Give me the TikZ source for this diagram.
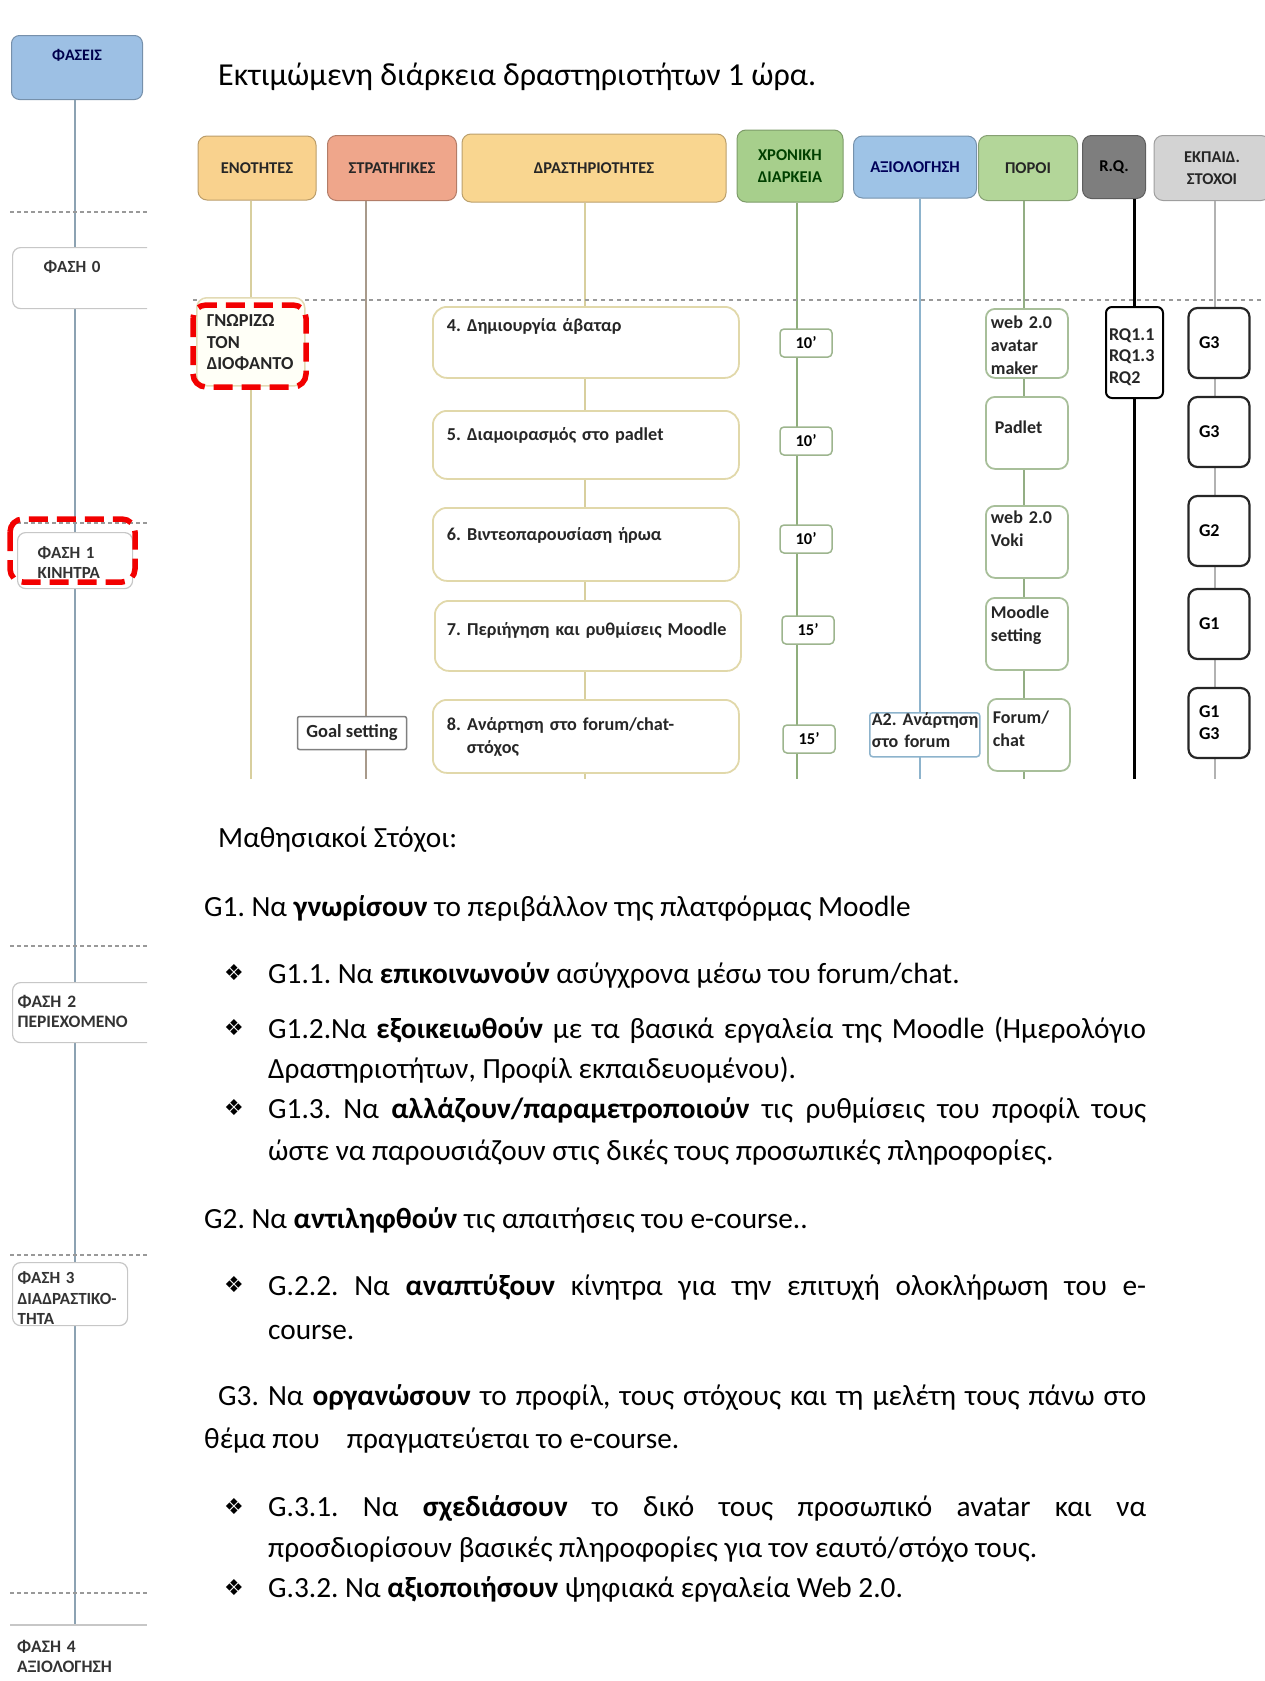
\documentclass[tikz,border=0pt]{standalone}
\usepackage{fontspec}
\setmainfont{Carlito}
\newfontfamily\dingfont{DejaVu Sans}
\definecolor{enotfill}{HTML}{F9D28E}
\definecolor{stratfill}{HTML}{EFA68B}
\definecolor{drastfill}{HTML}{F9D690}
\definecolor{xronfill}{HTML}{A7CF8C}
\definecolor{axiolfill}{HTML}{9EC3E6}
\definecolor{poroifill}{HTML}{B3D699}
\definecolor{rqfill}{HTML}{7E7E7E}
\definecolor{stoxfill}{HTML}{D3D3D3}
\definecolor{phasefill}{HTML}{9DC0E4}
\definecolor{enotline}{HTML}{D8CF9E}
\definecolor{stratline}{HTML}{A89A8B}
\definecolor{xronline}{HTML}{8FAE7C}
\definecolor{axiolline}{HTML}{8DB3CC}
\definecolor{poroiline}{HTML}{93AE84}
\definecolor{phaseline}{HTML}{8CA2B2}
\definecolor{actedge}{HTML}{E1D8AA}
\definecolor{timeedge}{HTML}{9DB58E}
\definecolor{tooledge}{HTML}{A8BF9A}
\definecolor{unitedge}{HTML}{E2DAB4}
\newcommand\hdrfont{\fontsize{16.5}{22}\selectfont\bfseries}
\newcommand\actfont{\fontsize{18.2}{23}\selectfont\bfseries}
\newcommand\toolfont{\fontsize{18}{23}\selectfont\bfseries}
\newcommand\goalfont{\fontsize{18}{22}\selectfont\bfseries}
\newcommand\phasefont{\fontsize{17.5}{20}\selectfont\bfseries}
\newcommand\bodyfont{\fontsize{29.3}{36}\selectfont}
\begin{document}
\frenchspacing
\begin{tikzpicture}[x=1pt,y=-1pt,
    hdr/.style={draw=#1!75!black,fill=#1,rounded corners=9pt,line width=1pt,align=center,font=\hdrfont,text=black!85,inner sep=2pt},
    colline/.style={line width=2pt},
    actbox/.style={draw=actedge,fill=white,line width=1.8pt,rounded corners=14pt,anchor=north west,align=left,text width=278pt,inner xsep=14pt,inner ysep=4pt,font=\actfont,text=black!85},
    timebox/.style={draw=timeedge,fill=white,line width=1.5pt,rounded corners=4pt,minimum width=52pt,minimum height=28pt,inner sep=0pt,font=\fontsize{16.5}{20}\selectfont\bfseries},
    toolbox/.style={draw=tooledge,fill=white,line width=1.8pt,rounded corners=9pt,anchor=north west,align=left,text width=72pt,inner xsep=5pt,inner ysep=3pt,font=\toolfont,text=black!85},
    goalbox/.style={draw=black!85,fill=white,line width=2.2pt,rounded corners=9pt,minimum width=61pt,minimum height=70pt,align=left,text width=40pt,inner xsep=10pt,font=\goalfont},
    phasebox/.style={draw=black!22,fill=white,line width=1.2pt,rounded corners=8pt,anchor=north west,align=left,inner ysep=3pt,font=\phasefont,text=black!80},
    redmark/.style={draw=red!95!black,line width=5.5pt,dash pattern=on 19pt off 9pt,rounded corners=13pt},
    sepline/.style={black!40,line width=1.8pt,dash pattern=on 4pt off 3pt},
    body/.style={anchor=base west,inner sep=0pt,font=\bodyfont},
    bul/.style={anchor=center,inner sep=0pt,font=\dingfont\fontsize{22}{24}\selectfont}]
  \useasboundingbox (0,0) rectangle (1265,1681);

  % phases panel
  \begin{scope}
    \clip (0,0) rectangle (147,1681);
    \node[draw=phasefill!75!black,fill=phasefill,rounded corners=8pt,line width=1pt,anchor=north west,text width=121pt,inner xsep=5pt,inner ysep=3pt,align=center,text height=22pt,text depth=36pt,font=\fontsize{16}{18}\selectfont\bfseries,text=blue!30!black] (phases) at (11,35) {ΦΑΣΕΙΣ};
    \coordinate (phaseEnd) at (75,1625);
    \draw[phaseline,line width=2pt] (phases.south -| phaseEnd) -- (phaseEnd);
    \draw[sepline] (10,212) -- (147,212);
    \draw[sepline] (10,523) -- (147,523);
    \draw[sepline] (10,946) -- (147,946);
    \draw[sepline] (10,1255) -- (147,1255);
    \draw[sepline] (10,1593) -- (147,1593);
    \node[phasebox,text width=98pt,inner xsep=31pt,text height=22pt,text depth=33pt,font=\fontsize{17}{20}\selectfont\bfseries] (ph0) at (12,247) {ΦΑΣΗ 0};
    \node[phasebox,text width=75pt,inner xsep=20pt,text height=23pt,text depth=27pt,font=\fontsize{17}{20}\selectfont\bfseries] (ph1) at (17,532) {ΦΑΣΗ 1\\ΚΙΝΗΤΡΑ};
    \node[phasebox,text width=150pt,inner xsep=5pt,text height=22pt,text depth=32pt] (ph2) at (12,982) {ΦΑΣΗ 2\\ΠΕΡΙΕΧΟΜΕΝΟ};
    \node[phasebox,text width=105pt,inner xsep=5pt,text height=18pt,text depth=39pt,font=\fontsize{17}{20.5}\selectfont\bfseries] (ph3) at (12,1262) {ΦΑΣΗ 3\\ΔΙΑΔΡΑΣΤΙΚΟ-\\ΤΗΤΑ};
    \draw[black!22,line width=1.2pt] (10,1625) -- (147,1625);
    \node[anchor=base west,inner sep=0pt,align=left,text width=125pt,font=\phasefont,text=black!80] (ph4) at (17,1652) {ΦΑΣΗ 4\\ΑΞΙΟΛΟΓΗΣΗ};
    \draw[redmark] (10,519) rectangle (135,582);
  \end{scope}

  \node[anchor=base west,inner sep=0pt,font=\fontsize{32}{38}\selectfont] (title) at (218,85) {Εκτιμώμενη διάρκεια δραστηριοτήτων 1 ώρα.};

  % column heads
  \node[hdr=enotfill,minimum width=118pt,minimum height=64pt] (hEnot) at (257,168) {ΕΝΟΤΗΤΕΣ};
  \node[hdr=stratfill,minimum width=129pt,minimum height=65pt] (hStrat) at (392,168) {ΣΤΡΑΤΗΓΙΚΕΣ};
  \node[hdr=drastfill,minimum width=264pt,minimum height=68pt] (hDrast) at (594,168) {ΔΡΑΣΤΗΡΙΟΤΗΤΕΣ};
  \node[hdr=xronfill,minimum width=106pt,minimum height=72pt,text=green!25!black] (hXron) at (790,166) {ΧΡΟΝΙΚΗ\\ΔΙΑΡΚΕΙΑ};
  \node[hdr=axiolfill,minimum width=123pt,minimum height=62pt,text=blue!35!black] (hAxiol) at (915,167) {ΑΞΙΟΛΟΓΗΣΗ};
  \node[hdr=poroifill,minimum width=99pt,minimum height=65pt] (hPoroi) at (1028,168) {ΠΟΡΟΙ};
  \node[hdr=rqfill,minimum width=63pt,minimum height=63pt,text=black] (hRQ) at (1114,167) {R.Q.};
  \node[hdr=stoxfill,minimum width=116pt,minimum height=65pt] (hStox) at (1212,168) {ΕΚΠΑΙΔ.\\ΣΤΟΧΟΙ};

  \coordinate (endEnot) at (251,779);
  \coordinate (endStrat) at (366,779);
  \coordinate (endDrast) at (585,779);
  \coordinate (endXron) at (797,779);
  \coordinate (endAxiol) at (920,779);
  \coordinate (endPoroi) at (1024,779);
  \coordinate (endRQ) at (1134,779);
  \coordinate (endStox) at (1215,779);
  \draw[colline,enotline] (hEnot.south -| endEnot) -- (endEnot);
  \draw[colline,stratline] (hStrat.south -| endStrat) -- (endStrat);
  \draw[colline,enotline] (hDrast.south -| endDrast) -- (endDrast);
  \draw[colline,xronline] (hXron.south -| endXron) -- (endXron);
  \draw[colline,axiolline,line width=2.5pt] (hAxiol.south -| endAxiol) -- (endAxiol);
  \draw[colline,poroiline] (hPoroi.south -| endPoroi) -- (endPoroi);
  \draw[colline,black,line width=3pt] (hRQ.south -| endRQ) -- (endRQ);
  \draw[colline,black!30] (hStox.south -| endStox) -- (endStox);
  \draw[black!40,line width=1.2pt,dash pattern=on 4pt off 4pt] (193,300) -- (1265,300);

  % units and strategies
  \node[draw=unitedge,fill=yellow!3,line width=1.5pt,rounded corners=10pt,anchor=north west,text width=88pt,inner xsep=10pt,inner ysep=3pt,align=left,font=\fontsize{18.3}{21.5}\selectfont\bfseries,text=black!85,text height=26pt,text depth=56pt] (unit) at (196,297) {ΓΝΩΡΙΖΩ\\ΤΟΝ\\ΔΙΟΦΑΝΤΟ};
  \draw[redmark] (193,305) rectangle (306,387);
  \node[draw=black!50,fill=white,line width=1.5pt,rounded corners=2pt,minimum width=109pt,minimum height=33pt,inner sep=0pt,font=\fontsize{18.5}{21}\selectfont\bfseries,text=black!85] (goal) at (352,733) {Goal setting};

  % activities
  \node[actbox,text height=21pt,text depth=42pt] (act4) at (432,306) {4. Δημιουργία άβαταρ};
  \node[actbox,text height=26pt,text depth=34pt] (act5) at (432,410) {5. Διαμοιρασμός στο padlet};
  \node[actbox,text height=29pt,text depth=36pt] (act6) at (432,507) {6. Βιντεοπαρουσίαση ήρωα};
  \node[actbox,text height=31pt,text depth=31pt,inner xsep=12pt,text width=282pt] (act7) at (434,600) {\mbox{7. Περιήγηση και ρυθμίσεις Moodle}};
  \node[actbox,text height=27pt,text depth=38pt] (act8) at (432,699) {8. Ανάρτηση στο forum/chat-\\\hspace*{20pt}στόχος};

  % durations
  \node[timebox] (t4) at (806,343) {10'};
  \node[timebox] (t5) at (806,441) {10'};
  \node[timebox] (t6) at (806,539) {10'};
  \node[timebox] (t7) at (808,630) {15'};
  \node[timebox] (t8) at (809,739) {15'};

  % assessment
  \node[draw=axiolline,fill=white,line width=1.5pt,rounded corners=3pt,anchor=north west,text width=106pt,inner xsep=2pt,inner ysep=1pt,align=left,font=\fontsize{18}{22}\selectfont\bfseries,text=black!85,text height=12pt,text depth=30pt] (a2) at (869,712) {\mbox{A2. Ανάρτηση}\\στο forum};

  % resources
  \node[toolbox,text height=17pt,text depth=46pt] (p4) at (985,308) {web 2.0\\avatar\\maker};
  \node[toolbox,text height=34pt,text depth=32pt,inner xsep=9pt,text width=64pt] (p5) at (985,396) {Padlet};
  \node[toolbox,text height=15pt,text depth=51pt] (p6) at (985,505) {web 2.0\\Voki};
  \node[toolbox,text height=18pt,text depth=48pt] (p7) at (985,597) {Moodle\\setting};
  \node[toolbox,text height=22pt,text depth=44pt] (p8) at (987,698) {Forum/\\chat};

  % research questions and goals
  \node[draw=black,fill=white,line width=2pt,rounded corners=6pt,anchor=north west,text width=51pt,inner xsep=3pt,inner ysep=3pt,align=left,font=\fontsize{18}{21.5}\selectfont\bfseries,text=black!85,text height=30pt,text depth=55pt] (rq) at (1105,306) {RQ1.1\\RQ1.3\\RQ2};
  \node[goalbox] (g4) at (1219,343) {G3};
  \node[goalbox] (g5) at (1219,432) {G3};
  \node[goalbox] (g6) at (1219,531) {G2};
  \node[goalbox] (g7) at (1219,624) {G1};
  \node[goalbox] (g8) at (1219,723) {G1\\G3};

  % learning goals
  \node[body] (lg) at (218,847) {Μαθησιακοί Στόχοι:};
  \node[body] (g1) at (204,916) {G1. Να \textbf{γνωρίσουν} το περιβάλλον της πλατφόρμας Moodle};
  \node[bul] (b11) at (234,973) {❖};
  \node[body] (g11) at (268,983) {G1.1. Να \textbf{επικοινωνούν} ασύγχρονα μέσω του forum/chat.};
  \node[bul] (b12) at (234,1028) {❖};
  \node[body] (g12) at (268,1038) {\makebox[878pt][s]{G1.2.Να \textbf{εξοικειωθούν} με τα βασικά εργαλεία της Moodle (Ημερολόγιο}};
  \node[body] (g12b) at (268,1078) {Δραστηριοτήτων, Προφίλ εκπαιδευομένου).};
  \node[bul] (b13) at (234,1108) {❖};
  \node[body] (g13) at (268,1118) {\makebox[878pt][s]{G1.3. Να \textbf{αλλάζουν/παραμετροποιούν} τις ρυθμίσεις του προφίλ τους}};
  \node[body] (g13b) at (268,1160) {ώστε να παρουσιάζουν στις δικές τους προσωπικές πληροφορίες.};
  \node[body] (g2) at (204,1228) {G2. Να \textbf{αντιληφθούν} τις απαιτήσεις του e-course..};
  \node[bul] (b22) at (234,1285) {❖};
  \node[body] (g22) at (268,1295) {\makebox[878pt][s]{G.2.2. Να \textbf{αναπτύξουν} κίνητρα για την επιτυχή ολοκλήρωση του e-}};
  \node[body] (g22b) at (268,1339) {course.};
  \node[body] (g3) at (218,1405) {\makebox[928pt][s]{G3. Να \textbf{οργανώσουν} το προφίλ, τους στόχους και τη μελέτη τους πάνω στο}};
  \node[body] (g3b) at (204,1448) {θέμα που\hspace{27pt}πραγματεύεται το e-course.};
  \node[bul] (b31) at (234,1506) {❖};
  \node[body] (g31) at (268,1516) {\makebox[878pt][s]{G.3.1. Να \textbf{σχεδιάσουν} το δικό τους προσωπικό avatar και να}};
  \node[body] (g31b) at (268,1557) {προσδιορίσουν βασικές πληροφορίες για τον εαυτό/στόχο τους.};
  \node[bul] (b32) at (234,1587) {❖};
  \node[body] (g32) at (268,1597) {G.3.2. Να \textbf{αξιοποιήσουν} ψηφιακά εργαλεία Web 2.0.};
\end{tikzpicture}
\end{document}
